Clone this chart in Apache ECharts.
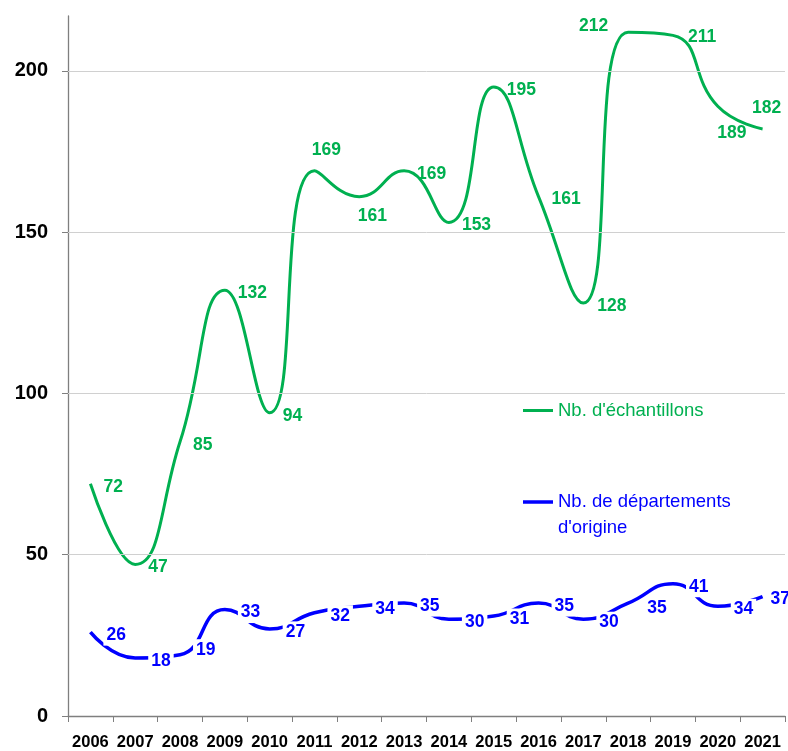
<!DOCTYPE html>
<html>
<head>
<meta charset="utf-8">
<script src="https://cdn.jsdelivr.net/npm/echarts@6/dist/echarts.min.js"></script>
<style>
  html, body { margin: 0; padding: 0; background: #fff; }
  #chart { width: 788px; height: 751px; }
</style>
</head>
<body>
<div id="chart"></div>
<script>
// data
const years = ['2006', '2007', '2008', '2009', '2010', '2011', '2012', '2013',
  '2014', '2015', '2016', '2017', '2018', '2019', '2020', '2021']
const echantillons = [72, 47, 85, 132, 94, 169, 161, 169, 153, 195, 161, 128, 212, 211, 189, 182]
const departements = [26, 18, 19, 33, 27, 32, 34, 35, 30, 31, 35, 30, 35, 41, 34, 37]
const yTicks = [0, 50, 100, 150, 200]

const GREEN = '#00B050'
const BLUE = '#0000FF'
const FONT = '"Liberation Sans", Arial, sans-serif'

// label placement tweaks (style only, by point index)
const greenLabelTweaks = {
  5: { position: 'top', distance: 12, offset: [12, 0] },
  6: { position: 'bottom', distance: 11, offset: [13, 0] },
  11: { position: 'right', distance: 14, offset: [0, 3] },
  12: { position: 'left', distance: 20, offset: [0, -6] },
  13: { position: 'right', distance: 15, offset: [0, 2] },
  14: { position: 'bottom', distance: 18, offset: [14, 0] },
  15: { position: 'top', distance: 12, offset: [4, 0] }
}
const blueLabelTweaks = {
  2: { offset: [0, -5] },
  12: { offset: [3, 5] },
  15: { distance: 5, offset: [0, 3] }
}

const withLabels = (values, tweaks) =>
  values.map((v, i) => tweaks[i] ? { value: v, label: tweaks[i] } : v)

const chart = echarts.init(document.getElementById('chart'))

const option = {
  animation: false,
  textStyle: { fontFamily: FONT },
  grid: { left: 68, right: 3, top: 16, bottom: 35 },
  legend: [
    {
      left: 518, top: 396,
      icon: 'rect', itemWidth: 30, itemHeight: 3, itemGap: 4,
      data: [{ name: "Nb. d'échantillons", textStyle: { color: GREEN } }],
      textStyle: { fontSize: 18.5, fontFamily: FONT }
    },
    {
      // bar drawn at the height of the first text line
      left: 518, top: 484,
      icon: 'path://M0,11.25H30V14.75H0Z M0,0h0.01v0.01h-0.01Z M0,52h0.01v0.01h-0.01Z',
      itemWidth: 30, itemHeight: 52, itemGap: 4,
      data: [{ name: 'Nb. de départements', textStyle: { color: BLUE } }],
      formatter: (name) => name + "\nd'origine",
      textStyle: { fontSize: 18.5, fontFamily: FONT, lineHeight: 26 }
    }
  ],
  xAxis: {
    type: 'category',
    data: years,
    boundaryGap: true,
    axisLine: { lineStyle: { color: '#7f7f7f', width: 1.3 } },
    axisTick: { show: true, length: 6, lineStyle: { color: '#7f7f7f' } },
    axisLabel: { color: '#000', fontSize: 16.5, fontWeight: 'bold', margin: 18, interval: 0 }
  },
  yAxis: {
    type: 'value',
    min: 0,
    max: 217,
    axisLine: { show: true, lineStyle: { color: '#7f7f7f', width: 1.3 } },
    axisTick: { show: true, length: 6, customValues: yTicks, lineStyle: { color: '#7f7f7f' } },
    axisLabel: { customValues: yTicks, color: '#000', fontSize: 20, fontWeight: 'bold', margin: 20 },
    splitLine: { show: false }
  },
  series: [
    {
      name: "Nb. d'échantillons",
      type: 'line',
      smooth: 0.5,
      symbol: 'circle',
      symbolSize: 0,
      showAllSymbol: true,
      data: withLabels(echantillons, greenLabelTweaks),
      lineStyle: { color: GREEN, width: 3 },
      itemStyle: { color: GREEN },
      label: {
        show: true, position: 'right', distance: 13, offset: [0, 3],
        color: GREEN, fontSize: 17.5, fontWeight: 'bold', fontFamily: FONT
      },
      markLine: {
        silent: true,
        symbol: 'none',
        label: { show: false },
        lineStyle: { color: '#d0d0d0', type: 'solid', width: 1 },
        data: yTicks.filter(t => t > 0).map(t => ({ yAxis: t }))
      },
      z: 3
    },
    {
      name: 'Nb. de départements',
      type: 'line',
      smooth: 0.5,
      symbol: 'circle',
      symbolSize: 0,
      showAllSymbol: true,
      data: withLabels(departements, blueLabelTweaks),
      lineStyle: { color: BLUE, width: 3.5 },
      itemStyle: { color: BLUE },
      label: {
        show: true, position: 'right', distance: 13, offset: [0, 3],
        color: BLUE, fontSize: 17.5, fontWeight: 'bold', fontFamily: FONT,
        backgroundColor: '#fff', padding: [2, 3, 1, 3]
      },
      z: 4
    }
  ]
}

chart.setOption(option)
</script>
</body>
</html>
